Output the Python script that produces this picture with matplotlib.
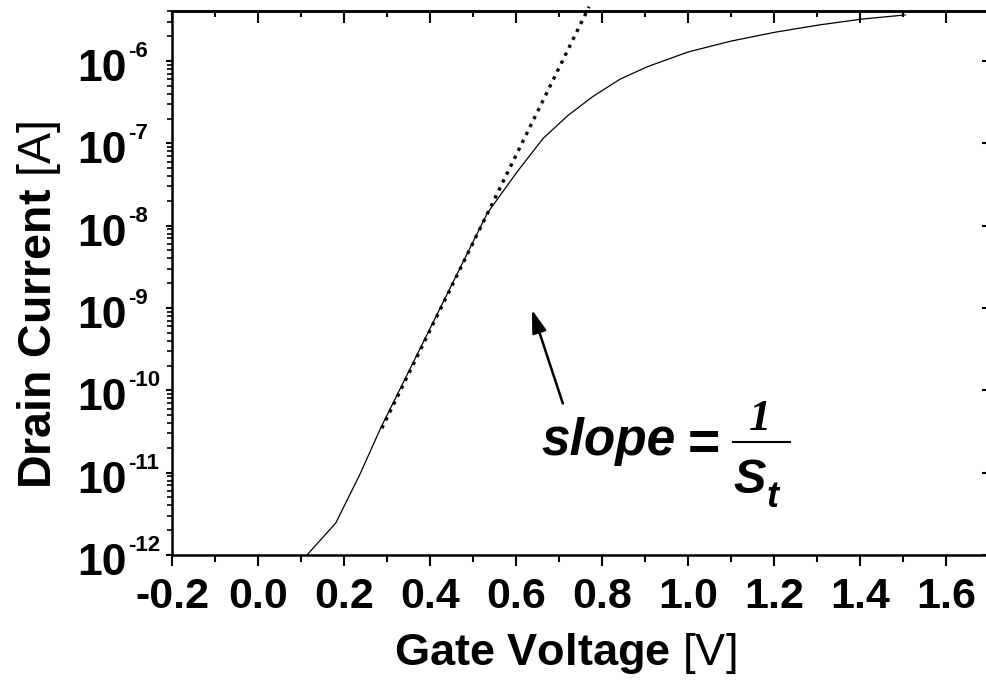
import matplotlib
matplotlib.use('Agg')
import matplotlib.pyplot as plt
from matplotlib.lines import Line2D
from matplotlib.transforms import blended_transform_factory, offset_copy
from matplotlib.ticker import MultipleLocator, LogLocator, NullFormatter

# Fonts: Arial-like everywhere
plt.rcParams['font.family'] = ['Liberation Sans', 'DejaVu Sans']
plt.rcParams['mathtext.fontset'] = 'custom'
plt.rcParams['mathtext.rm'] = 'Liberation Sans'
plt.rcParams['mathtext.bf'] = 'Liberation Sans:bold'
plt.rcParams['mathtext.it'] = 'Liberation Sans:italic'
plt.rcParams['axes.unicode_minus'] = False

gate_v = [0.114, 0.181, 0.237, 0.286, 0.533, 0.602, 0.663, 0.721, 0.779,
          0.842, 0.905, 1.000, 1.098, 1.202, 1.307, 1.405, 1.505]
log_id = [-12.0, -11.61, -11.02, -10.45, -7.85, -7.35, -6.94, -6.66, -6.43,
          -6.22, -6.07, -5.89, -5.76, -5.65, -5.56, -5.49, -5.44]
drain_i = [10 ** v for v in log_id]

# Subthreshold tangent line (dotted)
tangent_v = [0.288, 0.770]
tangent_i = [10 ** -10.46, 10 ** -5.34]

# Arrow pointing at the tangent
arrow_tail = (0.709, 10 ** -10.16)
arrow_head = (0.637, 10 ** -9.02)

# Ticks
xtick_vals = [-0.2, 0.0, 0.2, 0.4, 0.6, 0.8, 1.0, 1.2, 1.4, 1.6]
xtick_labels = ['-0.2', '0.0', '0.2', '0.4', '0.6', '0.8', '1.0', '1.2', '1.4', '1.6']
ytick_exps = [-12, -11, -10, -9, -8, -7, -6]
ytick_vals = [10.0 ** e for e in ytick_exps]

W, H = 987, 691
fig = plt.figure(figsize=(W / 100, H / 100), dpi=100)
ax = fig.add_axes([172 / W, 1 - 555 / H, (989 - 172) / W, (555 - 11) / H])

ax.plot(gate_v, drain_i, color='black', lw=0.9)
ax.plot(tangent_v, tangent_i, color='black', lw=2.4, linestyle=':', clip_on=False)

ax.set_yscale('log')
ax.set_xlim(-0.2, 1.7)
ax.set_ylim(1e-12, 10 ** -5.392)

ax.set_xticks(xtick_vals, xtick_labels, fontsize=31, fontweight='bold')
ax.set_yticks(ytick_vals, [''] * len(ytick_vals))
ax.xaxis.set_minor_locator(MultipleLocator(0.1))
ax.yaxis.set_minor_locator(LogLocator(base=10, subs=range(2, 10), numticks=20))
ax.yaxis.set_minor_formatter(NullFormatter())

for s in ax.spines.values():
    s.set_linewidth(1.8)

ax.tick_params(axis='x', which='major', direction='out', length=8, width=1.5, pad=8,
               top=False)
ax.tick_params(axis='x', which='minor', direction='out', length=5, width=1.5, top=False)
ax.tick_params(axis='y', which='major', direction='out', length=4.5, width=1.5,
               right=False)
ax.tick_params(axis='y', which='minor', direction='out', length=3.5, width=1.2, right=False)

# y tick labels: "10" with a small raised exponent
ytrans = blended_transform_factory(fig.transFigure, ax.transData)
for e, v in zip(ytick_exps, ytick_vals):
    ax.text(127 / W, v, '10', fontsize=32, fontweight='bold', ha='right', va='baseline',
            transform=offset_copy(ytrans, fig, x=0, y=-20, units='dots'))
    ax.text(128 / W, v, '%d' % e, fontsize=16, fontweight='bold', ha='left', va='baseline',
            transform=offset_copy(ytrans, fig, x=0, y=4, units='dots'))

# top and right ticks point inward
sec_x = ax.secondary_xaxis('top')
sec_x.set_xticks(xtick_vals)
sec_x.xaxis.set_minor_locator(MultipleLocator(0.1))
sec_x.tick_params(which='major', direction='in', length=8.5, width=1.5, labeltop=False)
sec_x.tick_params(which='minor', direction='in', length=4.5, width=1.5)
sec_x.spines['top'].set_linewidth(1.8)
sec_y = ax.secondary_yaxis('right')
sec_y.set_yticks(ytick_vals)
sec_y.yaxis.set_minor_locator(LogLocator(base=10, subs=range(2, 10), numticks=20))
sec_y.yaxis.set_minor_formatter(NullFormatter())
sec_y.tick_params(which='major', direction='in', length=5, width=1.5, labelright=False)
sec_y.tick_params(which='minor', direction='in', length=1.5, width=1.5)

ax.set_xlabel(r'$\mathbf{Gate\ Voltage}$ [V]', fontsize=32.5, va='center')
ax.xaxis.set_label_coords((565 - 172) / 817, -(654 - 555) / 544)
ax.set_ylabel(r'$\mathbf{Drain\ Current}$ [A]', fontsize=33.5, va='center')
ax.yaxis.set_label_coords((39 - 172) / 817, 1 - (305 - 11) / 544)

ax.annotate('', xy=arrow_head, xytext=arrow_tail,
            arrowprops=dict(arrowstyle='-|>,head_length=0.7,head_width=0.22',
                            mutation_scale=20, lw=1.8, color='black',
                            shrinkA=0, shrinkB=0))

# slope = 1 / S_t
fig.text(541 / W, 1 - 455 / H, 'slope', fontsize=37, fontweight='bold',
         fontstyle='italic', ha='left', va='baseline')
fig.text(704 / W, 1 - 460 / H, '=', fontsize=40, fontweight='bold',
         ha='center', va='baseline')
fig.text(760 / W, 1 - 430 / H, '1', fontsize=32, fontweight='bold',
         fontstyle='italic', family='Liberation Serif', ha='center', va='baseline')
fig.add_artist(Line2D([733 / W, 790 / W], [1 - 442 / H, 1 - 442 / H],
                      transform=fig.transFigure, color='black', lw=1.5))
fig.text(733 / W, 1 - 493 / H, 'S', fontsize=35, fontweight='bold',
         fontstyle='italic', ha='left', va='baseline')
fig.text(766 / W, 1 - 507 / H, 't', fontsize=26, fontweight='bold',
         fontstyle='italic', ha='left', va='baseline')

fig.savefig('out.png', dpi=100)
